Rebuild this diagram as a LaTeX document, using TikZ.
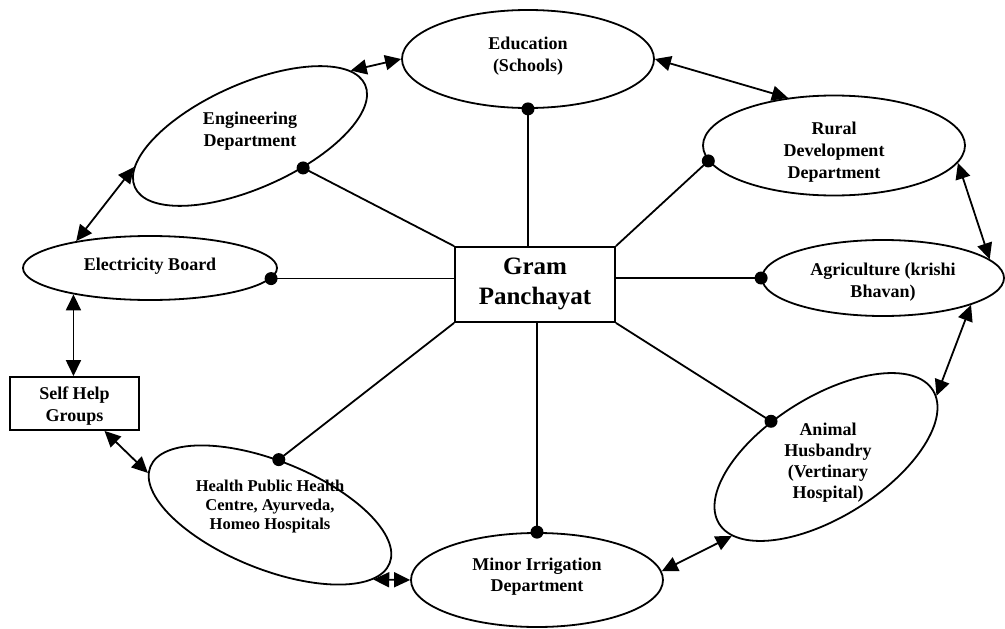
\documentclass[tikz,border=0pt]{standalone}
\usepackage{fontspec}
\setmainfont{Liberation Serif}
\usetikzlibrary{shapes.geometric,arrows.meta}

\tikzset{
  dept/.style={ellipse,draw,line width=1.8pt,inner sep=0pt},
  box/.style={rectangle,draw,line width=1.8pt,inner sep=0pt},
  lbl/.style={align=center,font=\bfseries\fontsize{18}{22}\selectfont},
  link/.style={line width=1.8pt},
  both/.style={line width=1.8pt,{Triangle[length=16pt,width=15pt]}-{Triangle[length=16pt,width=15pt]}}
}

\begin{document}
\begin{tikzpicture}[x=1pt,y=1pt]
    \useasboundingbox (0,0) rectangle (1005,-629);

    % Centre
    \node[box,minimum width=160pt,minimum height=75pt] (gp) at (535,-284.5) {};
    \node[lbl,font=\bfseries\fontsize{25}{30}\selectfont] (gptxt) at ([yshift=1pt]gp.center) {Gram\\Panchayat};

    % Departments
    \node[dept,minimum width=252pt,minimum height=98pt] (edu) at (528,-59) {};
    \node[lbl] (edutxt) at ([yshift=3pt]edu.center) {Education\\(Schools)};

    \node[dept,minimum width=252pt,minimum height=104pt,rotate=24] (eng) at (250,-136) {};
    \node[lbl] (engtxt) at ([yshift=5pt]eng.center) {Engineering\\Department};

    \node[dept,minimum width=262pt,minimum height=100pt] (rur) at (834,-145.5) {};
    \node[lbl] (rurtxt) at ([yshift=-7pt]rur.center) {Rural\\Development\\Department};

    \node[dept,minimum width=242pt,minimum height=76pt] (agr) at (883,-278) {};
    \node[lbl] (agrtxt) at ([yshift=-4pt]agr.center) {Agriculture (krishi\\Bhavan)};

    \node[dept,minimum width=252pt,minimum height=120pt,rotate=32] (ani) at (826,-457) {};
    \node[lbl,font=\bfseries\fontsize{18}{21}\selectfont] (anitxt) at ([xshift=2pt,yshift=-6pt]ani.center) {Animal\\Husbandry\\(Vertinary\\Hospital)};

    \node[dept,minimum width=252pt,minimum height=94pt] (min) at (537,-580) {};
    \node[lbl,font=\bfseries\fontsize{18}{21}\selectfont] (mintxt) at ([yshift=3pt]min.center) {Minor Irrigation\\Department};

    \node[dept,minimum width=258pt,minimum height=108pt,rotate=-22] (hea) at (270,-515) {};
    \node[lbl,font=\bfseries\fontsize{16.5}{19}\selectfont] (heatxt) at ([yshift=8pt]hea.center) {Health Public Health\\Centre, Ayurveda,\\Homeo Hospitals};

    \node[dept,minimum width=254pt,minimum height=64pt] (ele) at (150,-268) {};
    \node[lbl] (eletxt) at ([yshift=2pt]ele.center) {Electricity Board};

    \node[box,minimum width=129pt,minimum height=53pt] (shg) at (74.5,-403.5) {};
    \node[lbl] (shgtxt) at ([yshift=-3pt]shg.center) {Self Help\\Groups};

    % Spokes from the centre
    \draw[link] (edu.south) -- (edu.south |- gp.north);
    \draw[link] (eng.-55) -- (gp.north west);
    \draw[link] (rur.187) -- (gp.north east);
    \draw[link] (agr.west) -- (agr.west -| gp.east);
    \draw[link] (ani.115) -- (gp.south east);
    \draw[link] (min.north) -- (min.north |- gp.south);
    \draw[link] (hea.103) -- (gp.south west);
    \draw[link] (ele.-5) -- (ele.-5 -| gp.west);

    \fill (edu.south) circle (6.5pt);
    \fill (eng.-55) circle (6.5pt);
    \fill (rur.187) circle (6.5pt);
    \fill (agr.west) circle (6.5pt);
    \fill (ani.115) circle (6.5pt);
    \fill (min.north) circle (6.5pt);
    \fill (hea.103) circle (6.5pt);
    \fill (ele.-5) circle (6.5pt);

    % Ring of two-way links
    \draw[both] (eng.9) -- (edu.west);
    \draw[both] (edu.east) -- (rur.134);
    \draw[both] (rur.-8) -- (agr.10);
    \draw[both] (agr.-17) -- (ani.-3);
    \draw[both] (ani.188) -- (min.4);
    \draw[both] (min.west) -- (hea.-10);
    \draw[both] (hea.183) -- ([xshift=30pt]shg.south);
    \draw[both] (shg.north -| ele.199) -- (ele.199);
    \draw[both] (ele.160) -- (eng.171);
\end{tikzpicture}
\end{document}
